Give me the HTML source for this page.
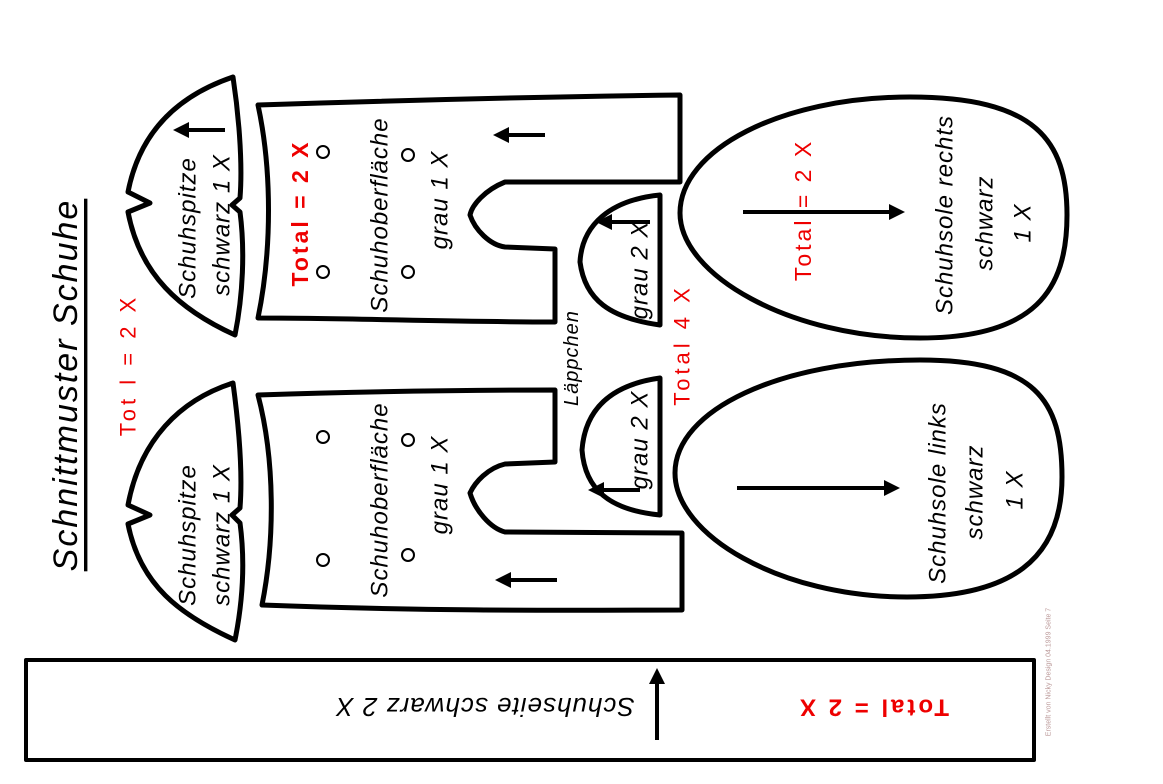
<!DOCTYPE html>
<html><head><meta charset="utf-8"><style>
html,body{margin:0;padding:0;background:#fff;}
svg{display:block;}
text{font-family:"Liberation Sans",sans-serif;}
.i{font-style:italic;font-size:24px;fill:#000;letter-spacing:1px;}
.r{fill:#e00;font-size:22px;letter-spacing:4px;}
.rb{fill:#e00;font-size:23px;font-weight:bold;letter-spacing:3px;}
</style></head><body>
<svg width="1163" height="784" viewBox="0 0 1163 784" xmlns="http://www.w3.org/2000/svg">
<defs><marker id="a" markerWidth="4" markerHeight="4" refX="1" refY="2" orient="auto" markerUnits="strokeWidth"><path d="M0,0 L4,2 L0,4 z" fill="#000"/></marker></defs>
<rect width="1163" height="784" fill="#fff"/>
<g fill="none" stroke="#000" stroke-width="5" stroke-linejoin="round">
<path d="M233,77 C180,95 140,130 128,192 L150,203 L128,212 C140,275 180,310 235,335 C243,295 245,250 240,212 L232,205 L240,198 C243,160 238,110 233,77 Z"/>
<path d="M233,383 C180,400 140,440 128,505 L150,515 L128,524 C140,585 180,615 235,640 C243,600 245,560 240,523 L232,515 L240,508 C243,470 238,420 233,383 Z"/>
<path d="M258,105 C470,98 600,96 680,95 L680,182 L505,182 C485,190 472,205 470,215 C475,230 490,245 505,247 L555,249 L555,322 C450,322 350,318 258,318 C272,250 272,170 258,105 Z"/>
<path d="M258,395 C350,392 450,390 555,390 L555,462 L505,464 C488,468 475,482 470,493 C475,510 490,528 505,532 L682,533 L682,610 C600,610 450,612 262,605 C275,540 275,460 258,395 Z"/>
<path d="M660,195 L660,325 C610,318 585,300 580,262 C582,225 610,200 660,195 Z"/>
<path d="M660,378 L660,515 C610,510 585,490 582,450 C585,410 610,385 660,378 Z"/>
<!-- Soles -->
<path d="M680,213 C680,150 780,97 910,97 C1035,97 1067,140 1067,215 C1067,290 1035,338 920,338 C790,338 680,275 680,213 Z"/>
<path d="M675,473 C675,410 780,360 920,360 C1035,360 1062,400 1062,477 C1062,560 1010,597 907,597 C780,597 675,535 675,473 Z"/>
<rect x="26" y="660" width="1008" height="100" stroke-width="4"/>
</g>
<g stroke="#000" stroke-width="4" marker-end="url(#a)">
<line x1="225" y1="130" x2="185" y2="130"/>
<line x1="545" y1="135" x2="505" y2="135"/>
<line x1="557" y1="580" x2="507" y2="580"/>
<line x1="650" y1="222" x2="608" y2="222"/>
<line x1="640" y1="490" x2="600" y2="490"/>
<line x1="743" y1="212" x2="893" y2="212"/>
<line x1="737" y1="488" x2="888" y2="488"/>
<line x1="657" y1="740" x2="657" y2="680"/>
</g>
<g fill="none" stroke="#000" stroke-width="2">
<circle cx="323" cy="152" r="6"/><circle cx="323" cy="272" r="6"/><circle cx="408" cy="155" r="6"/><circle cx="408" cy="272" r="6"/>
<circle cx="323" cy="437" r="6"/><circle cx="323" cy="560" r="6"/><circle cx="408" cy="440" r="6"/><circle cx="408" cy="555" r="6"/>
</g>
<g text-anchor="middle" dominant-baseline="central">
<text transform="translate(66,385) rotate(-90)" style="font-style:italic;font-size:34px;letter-spacing:2px;text-decoration:underline">Schnittmuster Schuhe</text>
<text class="r" transform="translate(128,365) rotate(-90)">Tot l = 2 X</text>
<text class="i" transform="translate(188,228) rotate(-90)">Schuhspitze</text>
<text class="i" transform="translate(222,225) rotate(-90)">schwarz 1 X</text>
<text class="i" transform="translate(188,535) rotate(-90)">Schuhspitze</text>
<text class="i" transform="translate(222,535) rotate(-90)">schwarz 1 X</text>
<text class="rb" transform="translate(300,213) rotate(-90)">Total = 2 X</text>
<text class="i" transform="translate(380,215) rotate(-90)">Schuhoberfläche</text>
<text class="i" transform="translate(440,200) rotate(-90)">grau 1 X</text>
<text class="i" transform="translate(380,500) rotate(-90)">Schuhoberfläche</text>
<text class="i" transform="translate(440,485) rotate(-90)">grau 1 X</text>
<text class="i" style="font-size:20px" transform="translate(572,358) rotate(-90)">Läppchen</text>
<text class="i" transform="translate(640,270) rotate(-90)">grau 2 X</text>
<text class="i" transform="translate(640,440) rotate(-90)">grau 2 X</text>
<text class="r" transform="translate(682,345) rotate(-90)">Total 4 X</text>
<text class="rb" style="font-weight:normal" transform="translate(803,210) rotate(-90)">Total = 2 X</text>
<text class="i" transform="translate(945,215) rotate(-90)">Schuhsole  rechts</text>
<text class="i" transform="translate(985,223) rotate(-90)">schwarz</text>
<text class="i" transform="translate(1023,223) rotate(-90)">1 X</text>
<text class="i" transform="translate(938,493) rotate(-90)">Schuhsole  links</text>
<text class="i" transform="translate(975,492) rotate(-90)">schwarz</text>
<text class="i" transform="translate(1015,490) rotate(-90)">1 X</text>
<text class="i" style="font-size:26px" transform="translate(485,707) rotate(180)">Schuhseite schwarz 2 X</text>
<text class="rb" style="font-size:24px" transform="translate(873,707) rotate(180)">Total = 2 X</text>
<text style="font-size:7px;fill:#b99" transform="translate(1049,672) rotate(-90)">Erstellt von Nicky Design 04.1999 Seite 7</text>
</g>
</svg>
</body></html>
